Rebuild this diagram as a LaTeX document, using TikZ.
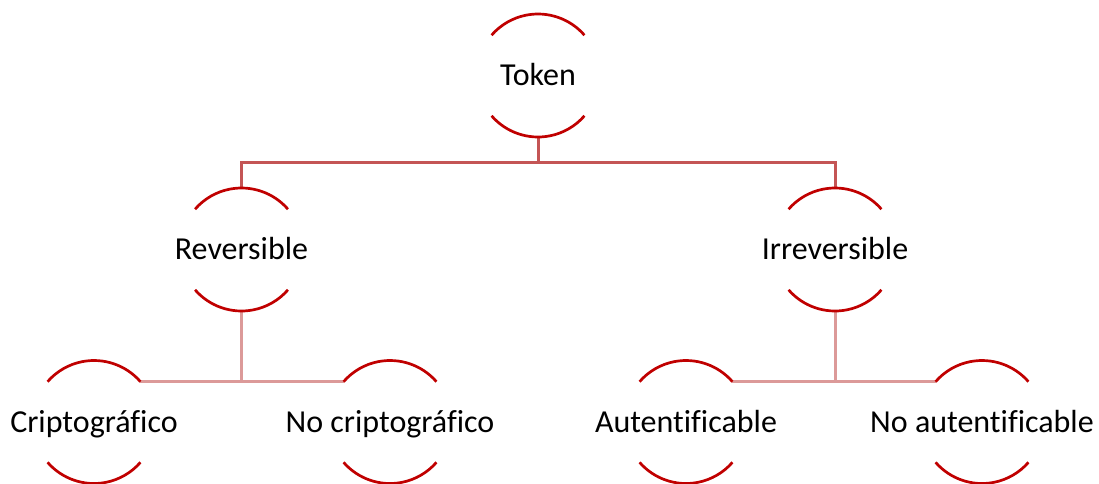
\documentclass[tikz,border=0pt]{standalone}
\usepackage{fontspec}
\setmainfont[Ligatures=NoCommon]{Carlito}
\usetikzlibrary{calc}
\definecolor{arcred}{HTML}{C00000}
\definecolor{linkone}{HTML}{C45555}
\definecolor{linktwo}{HTML}{DC9A99}
\begin{document}
\begin{tikzpicture}[x=1pt,y=1pt,
  circ/.style={circle,minimum size=123pt,inner sep=0pt,outer sep=0pt,draw=none},
  lbl/.style={anchor=base,inner sep=0pt,font=\fontsize{32}{38}\selectfont,text=black},
  arcline/.style={draw=arcred,line width=2.7pt},
  lone/.style={draw=linkone,line width=3pt,line join=miter},
  ltwo/.style={draw=linktwo,line width=3pt}]
\useasboundingbox (0,0) rectangle (1099,-483);
\node[circ] (tok) at (538,-75.5) {};
\node[circ] (rev) at (241.5,-249.5) {};
\node[circ] (irr) at (835,-249.5) {};
\node[circ] (cri) at (94,-422) {};
\node[circ] (ncr) at (390,-422) {};
\node[circ] (aut) at (686,-422) {};
\node[circ] (nau) at (982,-422) {};
% connectors
\coordinate (fork) at (538,-162);
\draw[lone] (tok.south) -- (fork);
\draw[lone] (rev.north) |- (fork) -| (irr.north);
\draw[ltwo] (rev.south) -- (rev.south |- cri.41);
\draw[ltwo] (cri.41) -- (ncr.139);
\draw[ltwo] (irr.south) -- (irr.south |- aut.41);
\draw[ltwo] (aut.41) -- (nau.139);
% arcs
\foreach \n in {tok,rev,irr,cri,ncr,aut,nau}{
  \draw[arcline] (\n.41) arc[start angle=41,end angle=139,radius=61.5pt];
  \draw[arcline] (\n.221) arc[start angle=221,end angle=319,radius=61.5pt];
}
% labels
\node[lbl] (ttok) at ($(tok.center)+(0,-10)$) {Token};
\node[lbl] (trev) at ($(rev.center)+(0,-10)$) {Reversible};
\node[lbl] (tirr) at ($(irr.center)+(0,-10)$) {Irreversible};
\node[lbl] (tcri) at ($(cri.center)+(0,-10)$) {Criptográfico};
\node[lbl] (tncr) at ($(ncr.center)+(0,-10)$) {No criptográfico};
\node[lbl] (taut) at ($(aut.center)+(0,-10)$) {Autentificable};
\node[lbl] (tnau) at ($(nau.center)+(0,-10)$) {No autentificable};
\end{tikzpicture}
\end{document}
